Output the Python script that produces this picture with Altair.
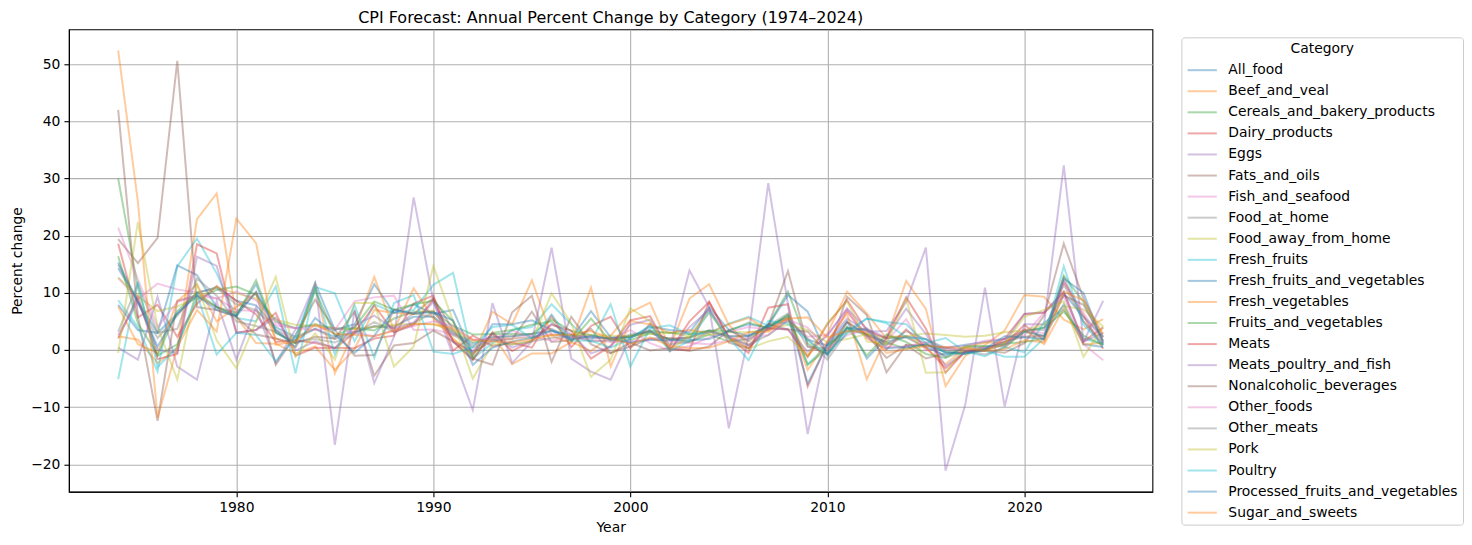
import altair as alt
import pandas as pd

years = list(range(1974, 2025))

categories = [
    "All_food", "Beef_and_veal", "Cereals_and_bakery_products", "Dairy_products", "Eggs",
    "Fats_and_oils", "Fish_and_seafood", "Food_at_home", "Food_away_from_home", "Fresh_fruits",
    "Fresh_fruits_and_vegetables", "Fresh_vegetables", "Fruits_and_vegetables", "Meats",
    "Meats_poultry_and_fish", "Nonalcoholic_beverages", "Other_foods", "Other_meats", "Pork",
    "Poultry", "Processed_fruits_and_vegetables", "Sugar_and_sweets",
]

all_food = [14.3, 8.5, 3.0, 6.3, 9.9, 11.0,
            8.6, 7.8, 4.0, 2.3, 3.7, 2.3, 3.2, 4.1, 4.1, 5.8,
            5.8, 2.9, 1.2, 2.2, 2.4, 2.8, 3.3, 2.6, 2.2, 2.1,
            2.3, 3.2, 1.8, 2.2, 3.4, 2.4, 2.4, 4.0, 5.5, 1.8,
            0.8, 3.7, 2.6, 1.4, 2.4, 1.9, 0.3, 0.9, 1.4, 1.9,
            3.4, 3.9, 9.9, 5.8, 2.3]
beef_and_veal = [2.4, 1.8, -2.3, 0.3, 22.9, 27.4,
                 5.8, 1.2, 1.1, -0.6, 0.6, -3.5, 0.2, 7.0, 6.5, 6.3,
                 6.9, 1.8, -0.7, 2.8, -2.5, -0.6, -0.6, 1.4, -0.2, 2.5,
                 6.6, 8.3, 0.4, 9.0, 11.5, 4.4, 0.8, 4.4, 5.5, -1.1,
                 2.9, 10.2, 6.4, 2.0, 12.1, 7.2, -6.3, -1.0, 0.9, 3.4,
                 9.6, 9.3, 5.3, 3.6, 5.4]
cereals = [30.0, 10.9, -1.0, 1.0, 8.8, 10.5,
           11.1, 9.7, 5.0, 3.8, 4.5, 3.7, 3.8, 3.4, 5.5, 6.7,
           6.7, 4.2, 2.7, 2.8, 2.8, 2.8, 5.4, 3.3, 2.6, 1.9,
           1.7, 2.9, 1.9, 1.4, 2.7, 1.5, 1.9, 4.4, 10.2, 1.1,
           -0.8, 3.9, 2.8, 1.3, 0.2, 1.1, -0.3, -0.6, 0.1, 1.1,
           1.4, 2.0, 13.0, 8.4, 1.5]
dairy = [18.6, 5.7, 7.9, 2.3, 8.1, 11.2,
         8.6, 6.2, 1.4, 1.7, 1.2, 0.4, 0.3, 2.0, 2.5, 8.1,
         9.5, -0.1, 2.5, 0.7, 1.3, 0.4, 6.0, 0.5, 4.2, 5.8,
         0.3, 4.6, 0.1, 0.0, 8.4, 2.1, -0.5, 7.4, 8.0, -6.4,
         1.1, 6.8, 2.1, 0.1, 3.6, 0.5, -3.2, -0.4, -0.1, 1.0,
         4.4, 1.7, 11.9, 6.0, 0.2]
eggs = [0.4, -1.7, 9.3, -2.9, -5.2, 8.5,
        -1.7, 7.5, -2.3, 3.6, 11.7, -16.6, 7.0, -5.8, 2.3, 26.7,
        8.5, -1.0, -10.5, 8.2, -2.3, 1.5, 17.9, -1.5, -3.8, -5.2,
        2.3, 3.5, 0.4, 13.9, 7.5, -13.7, 2.5, 29.2, 8.0, -14.7,
        1.5, 5.5, 3.2, 3.3, 8.4, 17.9, -21.1, -9.6, 10.9, -9.9,
        4.5, 4.5, 32.3, 1.4, 8.6]
fats_and_oils = [42.0, 6.0, -12.4, 8.6, 9.5, 7.5,
                 6.5, 10.0, -2.6, 2.6, 8.8, 3.5, -1.0, -0.9, 7.1, 6.3,
                 9.1, 3.5, -0.4, 1.6, 1.9, 6.7, 1.4, 1.7, 3.7, -0.5,
                 0.6, 2.0, 2.1, 2.0, 7.2, 1.3, 0.3, 4.3, 13.8, 0.7,
                 -0.7, 9.3, 6.1, -3.9, 0.9, -1.5, -0.6, -0.4, -0.1, -0.5,
                 1.2, 6.0, 18.6, 9.0, 2.2]
fish_and_seafood = [12.6, 8.9, 11.6, 10.6, 10.0, 9.0,
                    7.0, 6.8, 4.3, 3.8, 4.2, 3.5, 8.5, 9.2, 9.5, 3.5,
                    3.6, 2.7, 1.7, 1.8, 3.3, 2.4, 1.6, 2.4, 2.4, 1.7,
                    3.5, 1.2, -0.1, 0.7, 2.2, 3.2, 4.0, 3.5, 5.2, 2.3,
                    2.6, 7.2, 2.4, 1.5, 5.4, -0.1, 0.5, 0.7, 1.6, 1.9,
                    2.6, 6.5, 9.4, 1.0, -1.8]
food_at_home = [14.9, 8.2, 2.1, 6.0, 10.1, 10.8,
                8.0, 7.0, 3.5, 1.9, 3.7, 1.9, 3.1, 4.2, 3.8, 6.4,
                5.8, 2.6, 0.8, 2.3, 2.4, 2.8, 3.7, 2.1, 2.2, 2.1,
                2.3, 3.2, 1.8, 2.2, 3.4, 2.4, 2.4, 4.2, 6.4, 0.5,
                0.3, 4.8, 2.5, 0.9, 2.4, 1.2, -1.3, -0.2, 0.4, 0.9,
                3.5, 3.5, 11.4, 5.0, 1.2]
food_away = [12.7, 9.4, 6.8, 7.6, 9.1, 11.0,
             9.9, 9.0, 5.3, 4.4, 4.2, 3.8, 3.7, 4.0, 4.4, 4.6,
             4.5, 3.4, 1.4, 1.9, 2.0, 2.2, 2.6, 2.6, 2.6, 2.5,
             2.4, 2.8, 3.0, 2.3, 2.7, 3.1, 3.1, 3.6, 4.4, 3.5,
             1.3, 1.9, 2.8, 2.1, 2.4, 2.9, 2.6, 2.3, 2.5, 3.1,
             3.4, 4.5, 7.7, 7.1, 4.1]
fresh_fruits = [8.7, 4.0, -3.8, 14.6, 19.5, 13.4,
                5.6, 5.0, 11.1, -4.1, 11.0, 9.9, 1.5, 8.0, 6.5, 7.0,
                11.4, 13.5, -1.5, 1.2, 3.5, 4.0, 8.0, 4.5, 1.5, 8.0,
                -2.9, 3.8, 4.3, 2.7, 3.0, 4.6, 5.8, 4.2, 5.8, -2.5,
                0.8, 3.3, 5.5, 4.9, 4.5, 1.2, 2.1, -0.3, -1.1, 0.5,
                -0.4, 4.8, 7.1, 2.0, 1.0]
fresh_fruits_veg = [7.9, 3.5, 3.0, 14.8, 13.1, 7.5,
                    6.0, 11.5, 3.0, 1.3, 11.7, 3.5, 4.5, 11.5, 6.5, 8.0,
                    6.3, 7.0, -1.0, 4.5, 4.5, 5.2, 3.5, 2.0, 6.8, 2.2,
                    2.1, 4.1, 3.5, 3.1, 7.5, 3.5, 4.5, 3.9, 6.0, -5.9,
                    1.0, 5.0, -1.5, 2.1, 2.2, 0.5, -1.0, 0.4, 0.5, 1.0,
                    3.2, 2.5, 8.0, 1.0, 0.5]
fresh_vegetables = [7.6, 1.0, -0.5, 8.5, 11.5, 5.0,
                    7.5, 10.0, 2.0, 0.5, 11.3, -4.1, 3.5, 12.8, 3.5, 10.8,
                    5.5, 2.0, -1.0, 6.7, 4.5, 12.2, 2.5, 1.2, 10.9, -2.9,
                    5.0, 4.5, 3.0, 3.5, 3.0, 4.5, 5.6, 3.4, 5.8, -3.5,
                    1.5, 6.4, -5.1, 2.3, 2.4, 0.3, -2.5, 0.4, 1.3, 1.3,
                    3.6, 1.0, 7.3, 1.0, 1.2]
fruits_and_vegetables = [16.4, 4.7, -0.9, 6.8, 10.0, 7.5,
                         6.0, 12.2, 3.0, 1.2, 10.5, 2.5, 4.0, 8.5, 7.0, 8.0,
                         8.6, 5.0, -1.5, 3.0, 3.5, 4.4, 5.0, 1.5, 5.5, 1.5,
                         2.5, 3.3, 3.0, 2.8, 3.4, 3.3, 4.8, 3.8, 6.2, -2.6,
                         0.2, 4.1, -1.0, 2.7, 1.4, -0.7, -1.4, 0.7, 0.7, 0.6,
                         3.2, 3.9, 6.7, 2.5, 0.9]
meats = [2.0, 9.4, -1.6, -0.7, 18.5, 16.9,
         3.0, 3.5, 6.5, -1.0, 0.4, 0.3, 3.0, 7.8, 3.1, 4.4,
         8.9, 1.5, -1.8, 3.1, -0.2, 1.6, 4.4, 3.4, -1.5, 0.7,
         5.2, 5.9, -0.2, 5.0, 8.4, 2.2, 0.3, 3.8, 3.6, -1.2,
         4.5, 8.7, 3.4, 2.0, 9.2, 3.7, -4.0, -0.2, -0.1, 2.0,
         6.3, 6.5, 10.1, 1.5, 3.9]
meats_poultry_fish = [2.6, 8.5, 0.0, -0.5, 16.3, 14.7,
                      3.0, 3.5, 5.7, -0.1, 1.5, 0.3, 4.3, 6.0, 3.7, 4.8,
                      8.4, 1.4, -0.2, 2.8, 0.4, 1.6, 4.6, 2.8, -0.6, 0.6,
                      4.4, 5.3, 0.0, 4.0, 7.0, 2.4, 0.8, 3.8, 3.6, -0.3,
                      2.5, 7.2, 3.7, 2.1, 7.2, 2.8, -2.8, -0.3, 0.1, 1.4,
                      6.3, 6.6, 10.2, 1.4, 3.0]
nonalcoholic = [19.4, 15.2, 19.6, 50.6, 7.5, 7.0,
                5.8, 2.7, 2.0, 1.2, 2.3, 2.0, 6.7, -4.5, 0.8, 1.2,
                3.4, 1.5, -1.5, -2.6, 6.6, 9.5, -2.1, 5.8, 1.0, -0.6,
                1.3, -0.1, 0.3, -0.2, 0.6, 3.5, 1.5, 4.5, 3.6, 3.2,
                -0.5, 4.9, 2.7, -1.4, 0.9, 0.8, 0.4, -0.1, 0.1, 1.5,
                2.3, 2.5, 9.5, 7.9, 1.6]
other_foods = [21.4, 12.4, 4.0, 8.4, 9.5, 9.0,
               10.2, 8.7, 4.7, 3.8, 3.5, 3.9, 3.0, 2.4, 3.4, 4.2,
               5.0, 4.2, 1.8, 1.9, 2.0, 2.4, 2.8, 2.2, 1.8, 1.4,
               1.5, 1.9, 1.5, 1.2, 1.0, 1.6, 2.1, 2.6, 5.3, 3.9,
               0.2, 2.6, 3.6, 0.5, 0.6, 1.4, 0.1, 0.1, 0.4, 0.8,
               3.6, 2.9, 12.0, 6.5, 1.3]
other_meats = [3.2, 11.5, 3.0, 3.7, 12.5, 9.5,
               5.0, 4.2, 3.2, 1.4, 1.9, 1.3, 2.8, 4.9, 3.1, 4.7,
               6.6, 3.2, 0.4, 1.8, 0.9, 1.5, 2.1, 2.5, 1.5, 1.7,
               2.7, 3.3, 1.0, 1.4, 3.2, 2.1, 0.9, 2.6, 5.1, 2.0,
               -1.7, 3.2, 3.8, 0.9, 3.3, 1.9, -0.1, -0.2, -0.8, 0.4,
               3.4, 2.3, 12.7, 5.0, 0.8]
pork = [-0.5, 22.4, 4.0, -5.2, 11.5, 1.7,
        -3.2, 5.0, 12.8, -1.2, 2.9, -1.7, 8.2, 8.2, -2.9, 0.6,
        14.7, 5.0, -5.0, 1.0, 1.0, 1.5, 9.9, 4.7, -4.7, -1.7,
        7.3, 5.0, 0.0, 2.5, 6.5, 2.0, 0.2, 1.5, 2.3, -1.0,
        4.7, 8.5, 1.5, 1.0, 9.0, -4.0, -3.9, 0.5, 0.0, 1.1,
        5.8, 7.0, 8.5, -1.2, 4.1]
poultry = [-5.1, 12.0, -3.0, 0.5, 9.8, -0.8,
           3.0, 2.6, -2.0, 2.3, 11.0, -0.8, 7.8, -1.4, 8.2, 9.6,
           -0.3, -0.7, 0.5, 4.0, 4.4, 2.0, 6.2, 1.6, 1.6, 0.4,
           2.0, 4.3, -0.2, 1.6, 6.6, 2.1, -1.8, 5.1, 4.6, 1.6,
           -0.6, 2.9, 5.5, 4.7, 2.2, 1.9, -0.6, -0.7, -0.1, -1.2,
           -1.2, 2.0, 14.6, 4.4, 0.8]
processed_fruits_veg = [15.3, 8.5, 0.6, 6.4, 9.5, 7.0,
                        5.9, 10.2, 3.5, 0.5, 5.6, 2.7, -0.5, 2.5, 7.0, 6.4,
                        6.6, 5.2, -2.6, 0.4, 1.5, 2.1, 3.4, 1.8, 2.5, 1.9,
                        1.3, 1.8, 1.7, 1.7, 1.9, 3.3, 2.5, 4.3, 9.6, 6.7,
                        -1.0, 3.9, 3.5, 0.3, 0.5, 0.9, -0.4, -0.6, 0.2, 2.4,
                        2.2, 2.0, 12.5, 10.0, 1.1]
sugar_and_sweets = [52.4, 26.0, -11.9, 0.5, 7.0, 3.2,
                    23.0, 18.7, 0.9, 1.5, 4.5, 2.8, 2.6, 2.4, 3.4, 4.6,
                    4.5, 3.8, 1.8, 1.5, 1.4, 1.8, 2.6, 2.7, 3.3, 2.0,
                    1.0, 2.2, 0.7, 0.3, 0.4, 1.5, 3.1, 3.2, 5.5, 5.7,
                    2.2, 3.3, 3.1, -0.5, 0.1, 0.7, 0.5, 0.3, -0.2, 0.1,
                    1.7, 1.3, 10.2, 8.7, 2.8]

series = [all_food, beef_and_veal, cereals, dairy, eggs, fats_and_oils, fish_and_seafood,
          food_at_home, food_away, fresh_fruits, fresh_fruits_veg, fresh_vegetables,
          fruits_and_vegetables, meats, meats_poultry_fish, nonalcoholic, other_foods,
          other_meats, pork, poultry, processed_fruits_veg, sugar_and_sweets]

tab10 = ["#1f77b4", "#ff7f0e", "#2ca02c", "#d62728", "#9467bd",
         "#8c564b", "#e377c2", "#7f7f7f", "#bcbd22", "#17becf"]
colors = [tab10[i % 10] for i in range(len(categories))]

rows = []
for idx, (cat, vals) in enumerate(zip(categories, series)):
    for y, v in zip(years, vals):
        rows.append({"Year": y, "Category": cat, "Value": v, "order": idx})
df = pd.DataFrame(rows)

FONT = "DejaVu Sans"

chart = alt.Chart(df).mark_line(strokeWidth=2.0, opacity=0.4).encode(
    x=alt.X("Year:Q",
            scale=alt.Scale(domain=[1971.5, 2026.5], nice=False, zero=False),
            axis=alt.Axis(values=[1980, 1990, 2000, 2010, 2020], format="d", title="Year")),
    y=alt.Y("Value:Q",
            scale=alt.Scale(domain=[-24.8, 56.1], nice=False, zero=False),
            axis=alt.Axis(values=[-20, -10, 0, 10, 20, 30, 40, 50], format="d",
                          title="Percent change",
                          labelExpr="replace(datum.label, '-', '\u2212')")),
    color=alt.Color("Category:N",
                    scale=alt.Scale(domain=categories, range=colors),
                    legend=alt.Legend(
                        title="Category", orient="none", legendX=1114, legendY=8,
                        symbolType="M-1,0L2,0", symbolSize=380, symbolStrokeWidth=2,
                        rowPadding=3.1, labelOffset=20, padding=5, titlePadding=3,
                        labelFont=FONT, labelFontSize=13.9, labelColor="black",
                        titleFont=FONT, titleFontSize=13.9, titleFontWeight="normal",
                        titleColor="black", titleAnchor="middle",
                        strokeColor="#cccccc", fillColor="white", cornerRadius=3,
                        labelLimit=400)),
    detail="Category:N",
    order=alt.Order("order:Q"),
).properties(
    width=1085,
    height=463,
    autosize=alt.AutoSizeParams(type="none"),
    padding={"left": 61, "top": 21, "right": 312, "bottom": 45},
    title=alt.Title(text="CPI Forecast: Annual Percent Change by Category (1974\u20132024)",
                    font=FONT, fontSize=16, fontWeight="normal", color="black",
                    anchor="middle", offset=3),
).configure_view(
    stroke="black", strokeWidth=1.1
).configure_axis(
    labelFont=FONT, labelFontSize=13.9, labelColor="black",
    titleFont=FONT, titleFontSize=13.9, titleFontWeight="normal", titleColor="black",
    grid=True, gridColor="#b0b0b0", gridWidth=1.1,
    domainColor="black", domainWidth=1.1,
    tickColor="black", tickSize=5, tickWidth=1.1, labelPadding=4, titlePadding=6,
)

chart.save("out.html", embed_options={"renderer": "svg", "actions": False})
